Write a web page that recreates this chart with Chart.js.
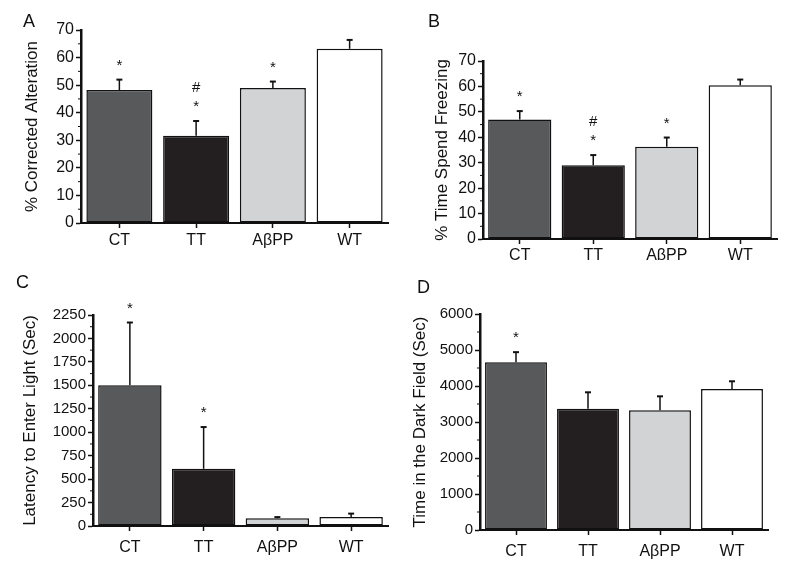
<!DOCTYPE html>
<html>
<head>
<meta charset="utf-8">
<script src="https://cdn.jsdelivr.net/npm/chart.js@4.4.1/dist/chart.umd.min.js"></script>
<style>
  body { margin: 0; background: #fff; }
  #page { position: relative; width: 789px; height: 568px; overflow: hidden; }
  .panel { position: absolute; }
  .tag { position: absolute; font: 18px "Liberation Sans", Arial, sans-serif; color: #111; }
</style>
</head>
<body>
<div id="page">
  <div class="panel" style="left:0;top:0;width:400px;height:260px"><canvas id="cA"></canvas></div>
  <div class="panel" style="left:400px;top:0;width:389px;height:260px"><canvas id="cB"></canvas></div>
  <div class="panel" style="left:0;top:270px;width:400px;height:298px"><canvas id="cC"></canvas></div>
  <div class="panel" style="left:400px;top:270px;width:389px;height:298px"><canvas id="cD"></canvas></div>
  <div class="tag" style="left:23px;top:11px">A</div>
  <div class="tag" style="left:428px;top:11px">B</div>
  <div class="tag" style="left:16px;top:272px">C</div>
  <div class="tag" style="left:417px;top:277px">D</div>
</div>
<script>
// groups and fills
const groups = ['CT', 'TT', 'AβPP', 'WT'];
const barColors = ['#58595b', '#231f20', '#d1d3d4', '#ffffff'];

// A: corrected alteration (%)
const alterMean = [48.2, 31.6, 49.0, 63.2];
const alterErr = [3.8, 5.4, 2.3, 3.2];
const alterSig = [['*'], ['*', '#'], ['*'], []];
const alterTicks = [0, 10, 20, 30, 40, 50, 60, 70];

// B: time spent freezing (%)
const freezeMean = [47.0, 29.0, 36.3, 60.5];
const freezeErr = [3.3, 4.0, 3.6, 2.2];
const freezeSig = [['*'], ['*', '#'], ['*'], []];
const freezeTicks = [0, 10, 20, 30, 40, 50, 60, 70];

// C: latency to enter light (sec)
const latencyMean = [1500, 610, 82, 96];
const latencyErr = [670, 445, 13, 36];
const latencySig = [['*'], ['*'], [], []];
const latencyTicks = [0, 250, 500, 750, 1000, 1250, 1500, 1750, 2000, 2250];

// D: time in the dark field (sec)
const darkMean = [4660, 3370, 3323, 3919];
const darkErr = [280, 455, 390, 212];
const darkSig = [['*'], [], [], []];
const darkTicks = [0, 1000, 2000, 3000, 4000, 5000, 6000];

const FONT = '"Liberation Sans", Arial, sans-serif';

// error bars, significance marks and minor ticks
const extras = {
  id: 'extras',
  afterDatasetsDraw(chart, args, opts) {
    const ctx = chart.ctx;
    const meta = chart.getDatasetMeta(0);
    const y = chart.scales.y;
    ctx.save();
    ctx.strokeStyle = '#111';
    ctx.fillStyle = '#111';
    ctx.font = '15px ' + FONT;
    ctx.textAlign = 'center';
    ctx.textBaseline = 'alphabetic';
    opts.mean.forEach((m, i) => {
      const x = meta.data[i].x;
      const y0 = y.getPixelForValue(m);
      const y1 = y.getPixelForValue(m + opts.err[i]);
      ctx.lineWidth = 1.5;
      ctx.beginPath(); ctx.moveTo(x, y0); ctx.lineTo(x, y1); ctx.stroke();
      ctx.lineWidth = 2;
      ctx.beginPath(); ctx.moveTo(x - 3, y1); ctx.lineTo(x + 3, y1); ctx.stroke();
      let base = y1 - 10;
      opts.sig[i].forEach(s => { ctx.fillText(s, x, base); base -= 19; });
    });
    ctx.restore();
  },
  afterDraw(chart) {
    const ctx = chart.ctx;
    const y = chart.scales.y;
    const vals = y.ticks.map(t => t.value);
    ctx.save();
    ctx.strokeStyle = '#111';
    ctx.lineWidth = 1;
    for (let i = 0; i < vals.length - 1; i++) {
      const py = y.getPixelForValue((vals[i] + vals[i + 1]) / 2);
      ctx.beginPath(); ctx.moveTo(y.right - 3, py); ctx.lineTo(y.right, py); ctx.stroke();
    }
    ctx.restore();
  }
};

function makePanel(id, w, h, area, mean, err, sig, ticks, title, titleX, labelPad, tickSize) {
  const [L, T, R, B] = area;
  new Chart(document.getElementById(id), {
    type: 'bar',
    data: {
      labels: groups,
      datasets: [{
        data: mean,
        backgroundColor: barColors,
        borderColor: '#111',
        borderWidth: 1.5,
        borderSkipped: false,
        barPercentage: 0.86,
        categoryPercentage: 1
      }]
    },
    options: {
      responsive: true,
      maintainAspectRatio: false,
      animation: false,
      layout: { padding: { left: 0, top: T, right: w - R, bottom: 0 } },
      plugins: {
        legend: { display: false },
        tooltip: { enabled: false },
        extras: { mean: mean, err: err, sig: sig }
      },
      scales: {
        x: {
          afterFit: s => { s.height = h - B; },
          border: { color: '#111', width: 2 },
          grid: { display: true, offset: false, drawOnChartArea: false, tickLength: 5, tickColor: '#111', tickWidth: 1.5 },
          ticks: { color: '#111', font: { family: FONT, size: 16 }, padding: labelPad }
        },
        y: {
          min: ticks[0],
          max: ticks[ticks.length - 1],
          afterFit: s => { s.width = L; },
          afterBuildTicks: s => { s.ticks = ticks.map(v => ({ value: v })); },
          border: { color: '#111', width: 2.5 },
          grid: { display: true, drawOnChartArea: false, tickLength: 5, tickColor: '#111', tickWidth: 1.5 },
          ticks: { color: '#111', font: { family: FONT, size: tickSize }, padding: 2, callback: v => String(v) },
          title: {
            display: true,
            text: title,
            color: '#111',
            font: { family: FONT, size: 17 },
            padding: { top: titleX - 10, bottom: 0 }
          }
        }
      }
    },
    plugins: [extras]
  });
}

makePanel('cA', 400, 260, [81, 30, 388, 223], alterMean, alterErr, alterSig, alterTicks,
  '% Corrected Alteration', 32, 3, 16);
makePanel('cB', 389, 260, [83, 61, 377, 239], freezeMean, freezeErr, freezeSig, freezeTicks,
  '% Time Spend Freezing', 42, 2, 16);
makePanel('cC', 400, 298, [93, 45, 388, 256], latencyMean, latencyErr, latencySig, latencyTicks,
  'Latency to Enter Light (Sec)', 30, 7, 15);
makePanel('cD', 389, 298, [80, 44, 368, 260], darkMean, darkErr, darkSig, darkTicks,
  'Time in the Dark Field (Sec)', 20, 7, 15);
</script>
</body>
</html>
